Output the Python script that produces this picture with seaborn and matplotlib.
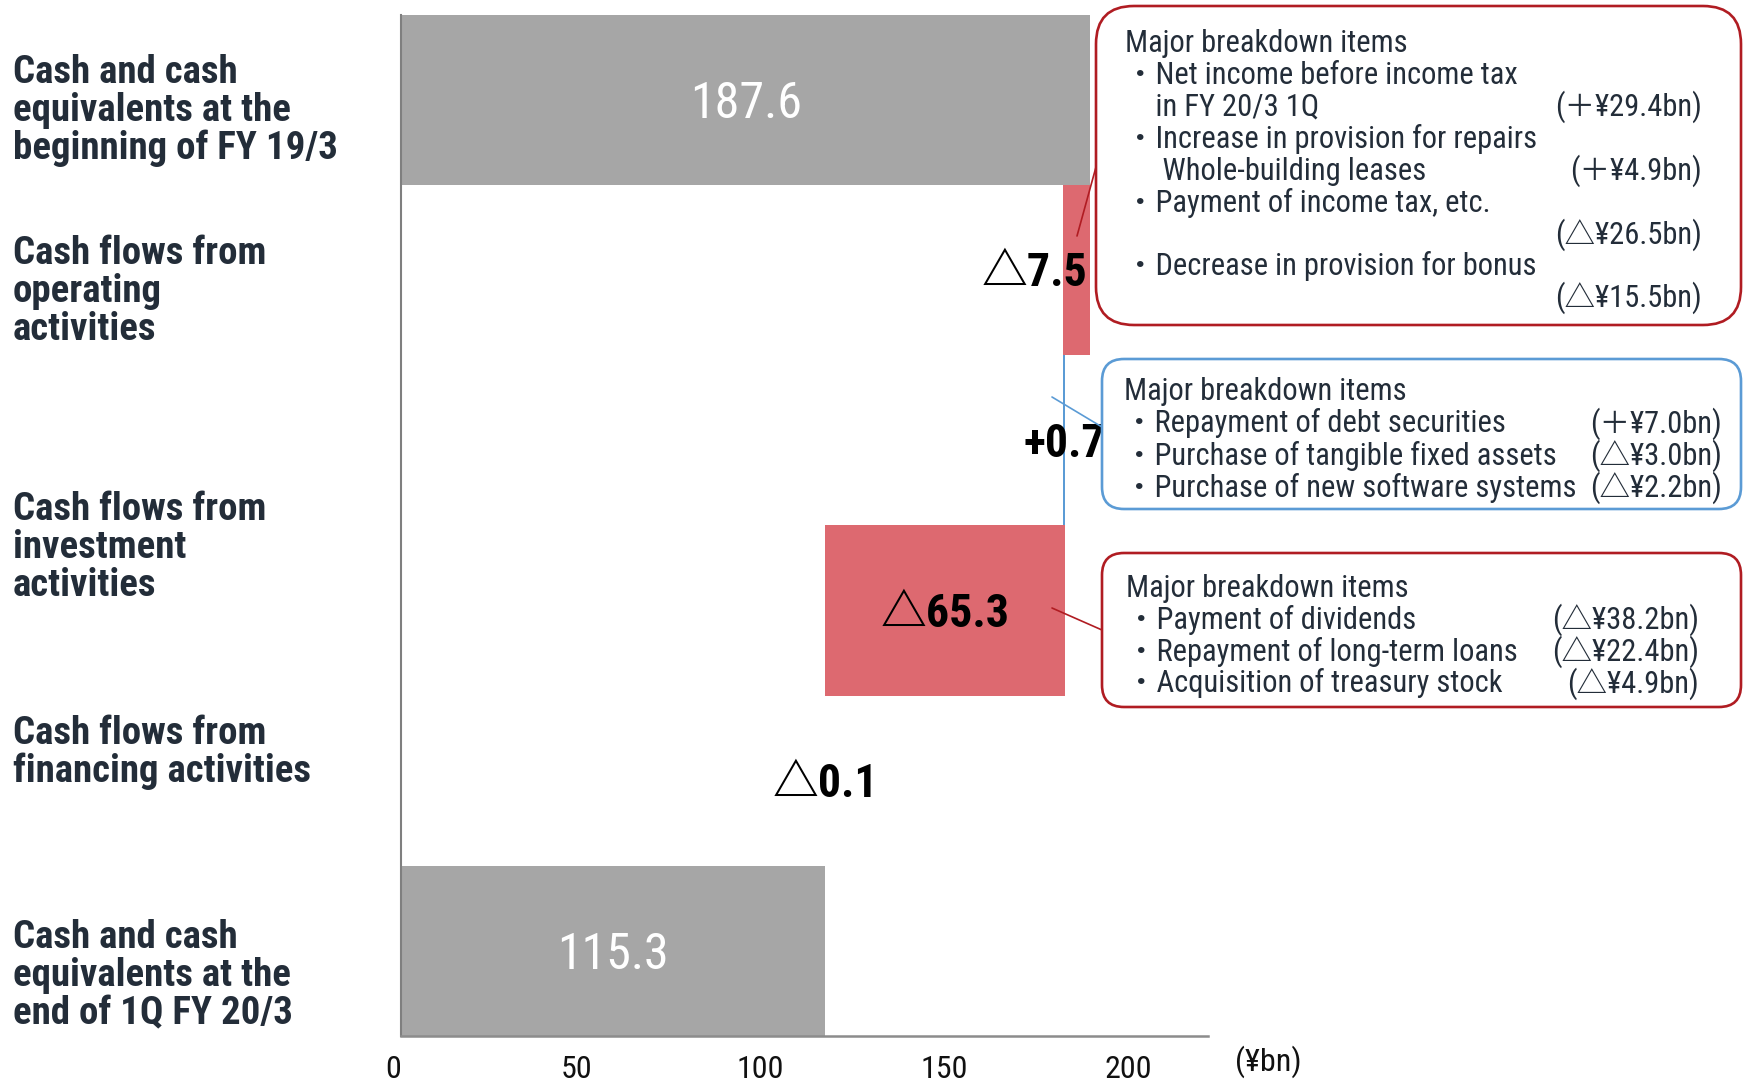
import matplotlib
matplotlib.use("Agg")
import matplotlib.pyplot as plt
from matplotlib import font_manager, transforms
from matplotlib.patches import FancyBboxPatch
from matplotlib.lines import Line2D
import pandas as pd
import seaborn as sns

# ---------------- data ----------------
row_keys = ["Opening", "Operating", "Investing", "Financing", "FX", "Closing"]
opening_balance = 187.6
flow_changes = [-7.5, 0.7, -65.3, -0.1]
closing_balance = 115.3

captions = [
    "Cash and cash\nequivalents at the\nbeginning of FY 19/3",
    "Cash flows from\noperating\nactivities",
    "Cash flows from\ninvestment\nactivities",
    "Cash flows from\nfinancing activities",
    "Cash and cash\nequivalents at the\nend of 1Q FY 20/3",
]

x_ticks = [0, 50, 100, 150, 200]
unit_label = "(¥bn)"

operating_items = [
    ("Major breakdown items", ""),
    ("・Net income before income tax", ""),
    ("\u3000in FY 20/3 1Q", "(＋¥29.4bn)"),
    ("・Increase in provision for repairs", ""),
    ("\u3000 Whole-building leases", "(＋¥4.9bn)"),
    ("・Payment of income tax, etc.", ""),
    ("", "(△¥26.5bn)"),
    ("・Decrease in provision for bonus", ""),
    ("", "(△¥15.5bn)"),
]
investing_items = [
    ("Major breakdown items", ""),
    ("・Repayment of debt securities", "(＋¥7.0bn)"),
    ("・Purchase of tangible fixed assets", "(△¥3.0bn)"),
    ("・Purchase of new software systems", "(△¥2.2bn)"),
]
financing_items = [
    ("Major breakdown items", ""),
    ("・Payment of dividends", "(△¥38.2bn)"),
    ("・Repayment of long-term loans", "(△¥22.4bn)"),
    ("・Acquisition of treasury stock", "(△¥4.9bn)"),
]

# ---------------- waterfall geometry ----------------
values = [opening_balance] + flow_changes + [closing_balance]
lefts, widths, kinds = [0.0], [opening_balance], ["total"]
running = opening_balance
for ch in flow_changes:
    new = running + ch
    lefts.append(min(running, new))
    widths.append(abs(ch))
    kinds.append("up" if ch > 0 else "down")
    running = new
lefts.append(0.0)
widths.append(closing_balance)
kinds.append("total")


def value_text(v, kind):
    if kind == "total":
        return f"{v:.1f}"
    return ("+" if v > 0 else "△") + f"{abs(v):.1f}"


# ---------------- style ----------------
sns.set_theme(style="white")
available = {f.name for f in font_manager.fontManager.ttflist}
narrow = next((n for n in ["Liberation Sans Narrow", "Roboto Condensed"] if n in available), None)
if narrow:
    BASE, SZ, STRETCH = narrow, 1.0, "normal"
else:
    BASE, SZ, STRETCH = "DejaVu Sans", 0.8, "condensed"
FAMILY = [BASE, "Noto Sans CJK JP", "DejaVu Sans"]
plt.rcParams["font.family"] = FAMILY
plt.rcParams["font.stretch"] = STRETCH

GRAY, RED, BLUE = "#A6A6A6", "#DD6970", "#5B9BD5"
DARK_RED = "#B01C22"
TEXT_DARK = "#232D39"
palette = {"total": GRAY, "down": RED, "up": BLUE}

W, H = 1743, 1081
fig = plt.figure(figsize=(W / 100, H / 100), dpi=100)
PIX = transforms.IdentityTransform()


def fy(y_top):
    return H - y_top


def em_px(size_pt):
    return size_pt * 100 / 72


ax_left, ax_right, ax_top, ax_bottom = 401, 1208, 14.5, 1036
ax = fig.add_axes([ax_left / W, (H - ax_bottom) / H,
                   (ax_right - ax_left) / W, (ax_bottom - ax_top) / H])

df = pd.DataFrame({"row": row_keys, "width": widths})
sns.barplot(data=df, x="width", y="row", hue="row",
            palette=[palette[k] for k in kinds], orient="h", width=1.0,
            saturation=1, legend=False, errorbar=None, linewidth=0, ax=ax)

# shift each bar to its waterfall base
for p in ax.patches:
    i = int(round(p.get_y() + p.get_height() / 2))
    p.set_x(lefts[i])

ax.set_xlim(0, 219.6)
ax.set_ylim(5.5, -0.5)
ax.set_yticks([])
ax.set_xlabel("")
ax.set_ylabel("")
ax.set_xticks(x_ticks)
ax.set_xticklabels([str(t) for t in x_ticks])
ax.tick_params(axis="x", length=0, pad=14, labelsize=23 * SZ, labelcolor="#111111")
shift = transforms.ScaledTranslation(-8 / 100, 0, fig.dpi_scale_trans)
for lab in ax.xaxis.get_majorticklabels():
    lab.set_transform(lab.get_transform() + shift)

for side in ["top", "right"]:
    ax.spines[side].set_visible(False)
ax.spines["left"].set_color("#7F7F7F")
ax.spines["left"].set_linewidth(1.5)
ax.spines["bottom"].set_color("#8C8C8C")
ax.spines["bottom"].set_linewidth(1.8)

# value labels
label_align = ["center", "right", "center", "center", "center", "center"]
for i, (v, k) in enumerate(zip(values, kinds)):
    if k == "total":
        size, weight, color = 36 * SZ, "normal", "white"
    else:
        size, weight, color = 33 * SZ, "bold", "black"
    if label_align[i] == "right":
        x = lefts[i] + widths[i] - 0.9
    else:
        x = lefts[i] + widths[i] / 2
    ax.annotate(value_text(v, k), (x, i), xytext=(0, -0.36 * size),
                textcoords="offset points", ha=label_align[i], va="baseline",
                fontsize=size, fontweight=weight, color=color, zorder=6)

# left-hand captions
caption_centers = [107, 288, 544, 749, 972]
cap_size = 28 * SZ
for text, cy in zip(captions, caption_centers):
    lines = text.split("\n")
    n = len(lines)
    for k, line in enumerate(lines):
        yc = cy + (k - (n - 1) / 2) * 38.3
        fig.text(13, fy(yc + 0.36 * em_px(cap_size)), line, transform=PIX,
                 ha="left", va="baseline", fontsize=cap_size,
                 fontweight="bold", color=TEXT_DARK)

# unit label
fig.text(1268, fy(1059 + 0.36 * em_px(23 * SZ)), unit_label, transform=PIX,
         ha="center", va="baseline", fontsize=23 * SZ, color="#111111")


# callout boxes
def callout(x0, top, x1, bottom, color, radius, items, text_x, amount_x,
            first_y, pitch, connector):
    box = FancyBboxPatch((x0, fy(bottom)), x1 - x0, bottom - top,
                         boxstyle=f"round,pad=0,rounding_size={radius}",
                         transform=PIX, facecolor="none", edgecolor=color,
                         linewidth=1.9, zorder=3)
    fig.add_artist(box)
    (cx0, cy0), (cx1, cy1) = connector
    fig.add_artist(Line2D([cx0, cx1], [fy(cy0), fy(cy1)], transform=PIX,
                          color=color, linewidth=1.2, zorder=4))
    size = 22 * SZ
    for k, (desc, amount) in enumerate(items):
        yb = fy(first_y + k * pitch + 0.36 * em_px(size))
        if desc:
            fig.text(text_x, yb, desc, transform=PIX, ha="left", va="baseline",
                     fontsize=size, color=TEXT_DARK)
        if amount:
            fig.text(amount_x, yb, amount, transform=PIX, ha="right",
                     va="baseline", fontsize=size, color=TEXT_DARK)


callout(1096, 6, 1741, 325, DARK_RED, 38, operating_items, 1125, 1702,
        41, 31.9, ((1077, 236), (1096, 167)))
callout(1102, 359, 1741, 509, BLUE, 22, investing_items, 1124, 1722,
        389, 32.3, ((1052, 397), (1102, 427)))
callout(1102, 553, 1741, 707, DARK_RED, 22, financing_items, 1126, 1699,
        586, 31.8, ((1052, 608), (1102, 630)))

fig.savefig("out.png", dpi=100)
